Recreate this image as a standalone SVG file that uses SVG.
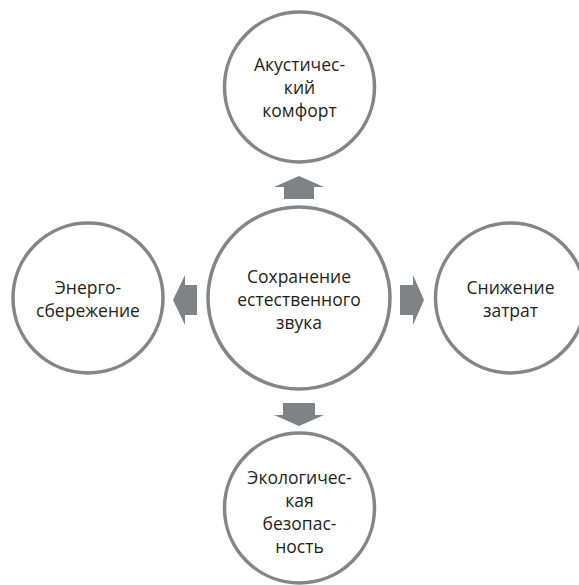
<svg xmlns="http://www.w3.org/2000/svg" width="579" height="585" viewBox="0 0 579 585">
<style>
.node circle{fill:#fff;stroke:#858585;stroke-width:3.5}
.node text{font-family:"Open Sans","Noto Sans","DejaVu Sans",sans-serif;font-size:17.5px;fill:#231f20;text-anchor:middle}
.arrow{fill:#808285}
</style>
<rect width="579" height="585" fill="#fff"/>
<g id="connectors">
<path class="arrow" d="M299,176 L324,187 L314,187 L314,199 L284,199 L284,187 L274,187 Z"/>
<path class="arrow" d="M173,300 L185,275 L185,285 L197,285 L197,315 L185,315 L185,325 Z"/>
<path class="arrow" d="M424,300 L413,275 L413,285 L400,285 L400,315 L413,315 L413,325 Z"/>
<path class="arrow" d="M299,426 L324,415 L315,415 L315,403 L283,403 L283,415 L274,415 Z"/>
</g>
<g id="center" class="node">
<circle cx="299" cy="298" r="91"/>
<text x="299" y="283">Сохранение</text>
<text x="299" y="306">естественного</text>
<text x="299" y="329">звука</text>
</g>
<g id="top" class="node">
<circle cx="299.5" cy="87" r="75"/>
<text x="299.5" y="71">Акустичес-</text>
<text x="299.5" y="94">кий</text>
<text x="299.5" y="117">комфорт</text>
</g>
<g id="left" class="node">
<circle cx="88" cy="298" r="75"/>
<text x="88" y="294">Энерго-</text>
<text x="88" y="317">сбережение</text>
</g>
<g id="right" class="node">
<circle cx="510.5" cy="298" r="75"/>
<text x="510.5" y="294">Снижение</text>
<text x="510.5" y="317">затрат</text>
</g>
<g id="bottom" class="node">
<circle cx="299.5" cy="508" r="75"/>
<text x="299.5" y="484">Экологичес-</text>
<text x="299.5" y="507">кая</text>
<text x="299.5" y="530">безопас-</text>
<text x="299.5" y="553">ность</text>
</g>
</svg>
